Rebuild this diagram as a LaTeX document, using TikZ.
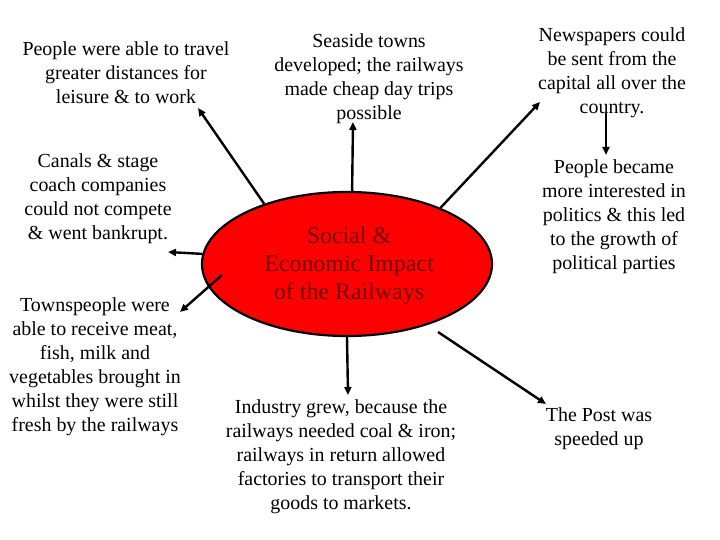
\documentclass[tikz,border=0pt]{standalone}
\usepackage{fontspec}
\setmainfont{Liberation Serif}
\usetikzlibrary{arrows.meta,shapes.geometric}
\definecolor{ellred}{RGB}{255,0,0}
\definecolor{ellink}{RGB}{115,0,0}
\tikzset{
  txt/.style={align=center, inner sep=0pt, font=\fontsize{20}{24}\selectfont},
  arr/.style={line width=2.4bp, -{Triangle[length=8bp,width=7bp]}},
  hub/.style={ellipse, draw=black, line width=2.2bp, fill=ellred, minimum width=290bp, minimum height=144bp, inner sep=0pt, text=ellink, align=center, font=\fontsize{24}{28}\selectfont}
}
\begin{document}
\begin{tikzpicture}[x=1bp,y=-1bp]
\useasboundingbox (0,0) rectangle (720,540);
\node[hub] (ell) at (347,264) {};
\node[text=ellink, align=center, inner sep=0pt, font=\fontsize{24}{28}\selectfont] (title) at (349,266) {Social \&\\Economic Impact\\of the Railways};
\node[txt] (travel) at (126,73) {People were able to travel\\greater distances for\\leisure \& to work};
\node[txt] (seaside) at (369,79) {Seaside towns\\developed; the railways\\made cheap day trips\\possible};
\node[txt] (news) at (612,73) {Newspapers could\\be sent from the\\capital all over the\\country.};
\node[txt] (canals) at (98,199) {Canals \& stage\\coach companies\\could not compete\\\& went bankrupt.};
\node[txt] (politics) at (614,217) {People became\\more interested in\\politics \& this led\\to the growth of\\political parties};
\node[txt] (towns) at (95,367) {Townspeople were\\able to receive meat,\\fish, milk and\\vegetables brought in\\whilst they were still\\fresh by the railways};
\node[txt] (industry) at (341,457) {Industry grew, because the\\railways needed coal \& iron;\\railways in return allowed\\factories to transport their\\goods to markets.};
\node[txt] (post) at (599,429) {The Post was\\speeded up};
\coordinate (e1) at (198,108);
\coordinate (e2) at (353,122);
\coordinate (e3) at (540,102);
\coordinate (e4) at (168,252);
\coordinate (s5) at (222,275);
\coordinate (e5) at (180,312);
\coordinate (e6) at (348,395);
\coordinate (s7) at (438,332);
\coordinate (e7) at (546,404);
\coordinate (s8) at (606,113);
\coordinate (e8) at (606,155);
\draw[arr] (ell.144) -- (e1);
\draw[arr] (ell.86) -- (e2);
\draw[arr] (ell.31) -- (e3);
\draw[arr] (ell.176) -- (e4);
\draw[arr] (s5) -- (e5);
\draw[arr] (ell.south) -- (e6);
\draw[arr] (s7) -- (e7);
\draw[arr] (s8) -- (e8);
\end{tikzpicture}
\end{document}
